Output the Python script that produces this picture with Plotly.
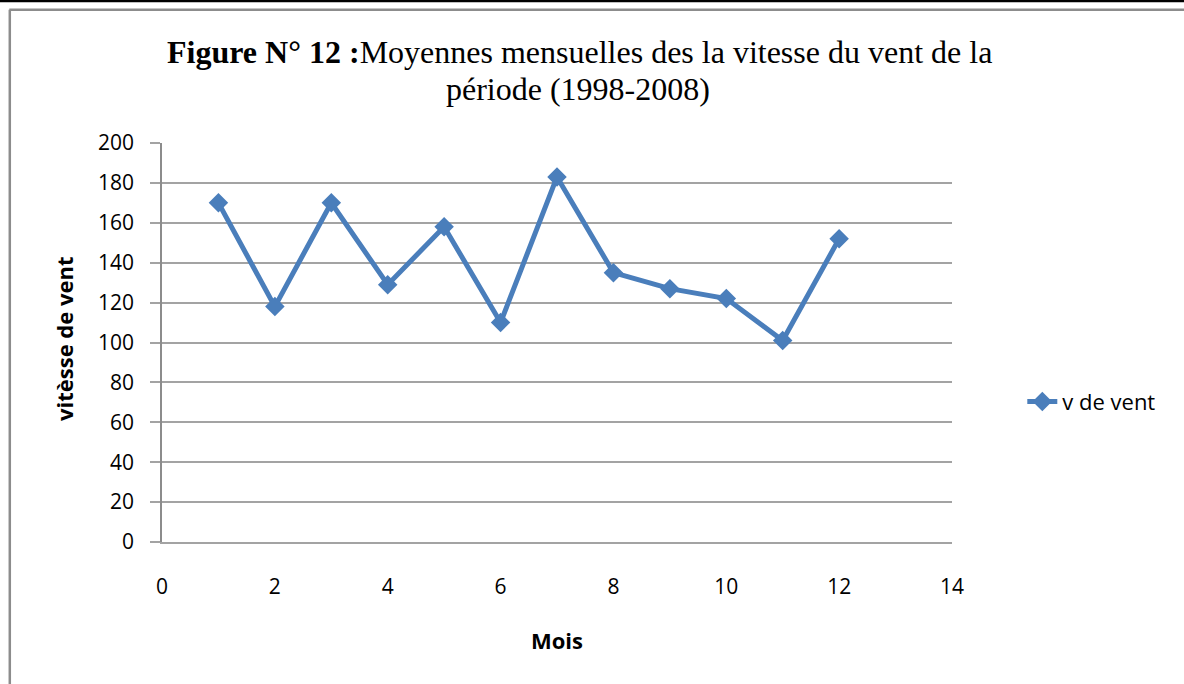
import plotly.graph_objects as go

# Data
months = [1, 2, 3, 4, 5, 6, 7, 8, 9, 10, 11, 12]
wind_speed = [170, 118, 170, 129, 158, 110, 183, 135, 127, 122, 101, 152]
series_name = "v de vent"
x_ticks = [0, 2, 4, 6, 8, 10, 12, 14]
y_ticks = [0, 20, 40, 60, 80, 100, 120, 140, 160, 180, 200]

W, H = 1184, 684
L, R, T, B = 161.7, 951.7, 143.3, 542.3  # plot area in pixels

def px(x):
    return (x - L) / (R - L)

def py(y):
    return (B - y) / (B - T)

SANS = "Open Sans, Liberation Sans, sans-serif"
SERIF = "Liberation Serif, Times New Roman, serif"
BLUE = "#4a7ebb"
GRID = "#a3a3a3"

fig = go.Figure()
fig.add_trace(go.Scatter(
    x=months, y=wind_speed, name=series_name, mode="lines+markers",
    line=dict(color=BLUE, width=5),
    marker=dict(symbol="diamond", size=15, color=BLUE),
    showlegend=True,
))

fig.update_layout(
    width=W, height=H,
    margin=dict(l=L, r=W - R, t=T, b=H - B, pad=0),
    paper_bgcolor="white", plot_bgcolor="white",
    font=dict(family=SANS, size=21, color="#000000"),
    xaxis=dict(
        range=[0, 14], tickvals=x_ticks, ticktext=[str(v) for v in x_ticks],
        showgrid=False, zeroline=False,
        showline=True, linecolor=GRID, linewidth=1.5,
        ticks="", ticklabelstandoff=25,
        tickfont=dict(family=SANS, size=21, color="#000"),
        fixedrange=True,
    ),
    yaxis=dict(
        range=[0, 200], tickvals=y_ticks, ticktext=[str(v) for v in y_ticks],
        showgrid=True, gridcolor=GRID, gridwidth=1.5,
        zeroline=False, showline=True, linecolor="#8c8c8c", linewidth=1.5,
        ticks="outside", ticklen=10, tickcolor=GRID, tickwidth=1.5,
        ticklabelstandoff=12,
        tickfont=dict(family=SANS, size=21, color="#000"),
        fixedrange=True,
    ),
    legend=dict(
        x=px(1022), y=py(402), xanchor="left", yanchor="middle",
        font=dict(family=SANS, size=22, color="#000"),
        bgcolor="rgba(0,0,0,0)", itemwidth=30,
    ),
    showlegend=True,
)

annotations = [
    dict(text="<b>Figure N° 12 :</b>Moyennes mensuelles des la vitesse du vent de la",
         x=px(579), y=py(52), xref="paper", yref="paper", xanchor="center", yanchor="middle",
         showarrow=False, font=dict(family=SERIF, size=32, color="#000")),
    dict(text="période (1998-2008)",
         x=px(578), y=py(89), xref="paper", yref="paper", xanchor="center", yanchor="middle",
         showarrow=False, font=dict(family=SERIF, size=32, color="#000")),
    dict(text="<b>vitèsse de vent</b>", textangle=-90,
         x=px(63), y=py(339), xref="paper", yref="paper", xanchor="center", yanchor="middle",
         showarrow=False, font=dict(family=SANS, size=22, color="#000")),
    dict(text="<b>Mois</b>",
         x=px(557), y=py(640), xref="paper", yref="paper", xanchor="center", yanchor="middle",
         showarrow=False, font=dict(family=SANS, size=22, color="#000")),
]
fig.update_layout(annotations=annotations)

shapes = [
    dict(type="rect", xref="paper", yref="paper", x0=px(-5), x1=px(W + 5), y0=py(-5), y1=py(2.5),
         fillcolor="#000", line=dict(width=0), layer="above"),
    dict(type="line", xref="paper", yref="paper", x0=px(9), x1=px(W + 5), y0=py(10), y1=py(10),
         line=dict(color="#8c8c8c", width=2.5), layer="above"),
    dict(type="line", xref="paper", yref="paper", x0=px(9.5), x1=px(9.5), y0=py(10), y1=py(H + 5),
         line=dict(color="#8c8c8c", width=2.5), layer="above"),
]
fig.update_layout(shapes=shapes)

fig.write_html(
    "out.html",
    config={"displayModeBar": False},
    post_script="document.body.style.margin='0';document.body.style.overflow='hidden';",
)
